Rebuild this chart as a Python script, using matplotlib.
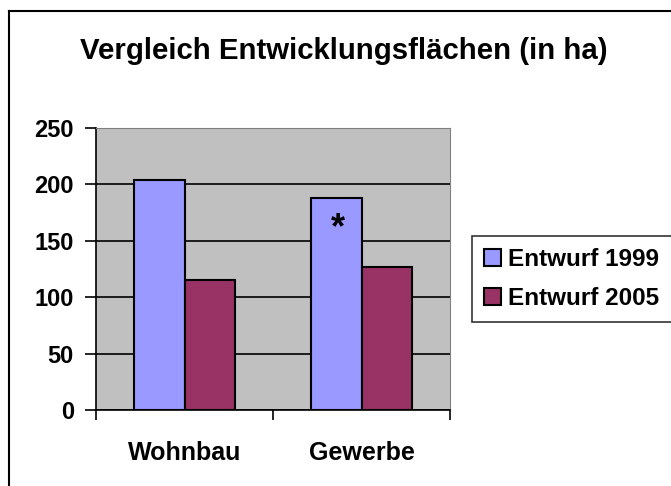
import numpy as np
import matplotlib.pyplot as plt
from matplotlib.lines import Line2D

plt.rcParams['font.family'] = ['Liberation Sans', 'DejaVu Sans']
plt.rcParams['font.weight'] = 'bold'

# Daten
kategorien = ['Wohnbau', 'Gewerbe']
serien = ['Entwurf 1999', 'Entwurf 2005']
werte_1999 = [204, 188]
werte_2005 = [115, 127]
y_ticks = [0, 50, 100, 150, 200, 250]

farben = ['#9999FF', '#993366']

W, H = 671, 486
fig = plt.figure(figsize=(W / 100, H / 100), dpi=100)

# Rahmen des Diagramms (links und oben)
fig.add_artist(Line2D([9 / W, 9 / W], [0, 1 - 11 / H], color='black', lw=1.5,
                      transform=fig.transFigure))
fig.add_artist(Line2D([9 / W, 1], [1 - 11 / H, 1 - 11 / H], color='black', lw=1.5,
                      transform=fig.transFigure))

ax = fig.add_axes([96 / W, 1 - 410 / H, 354 / W, 282 / H])
ax.set_facecolor('#C0C0C0')

x = np.arange(len(kategorien))
w = 1 / 3.5
b1 = ax.bar(x - w / 2, werte_1999, w, color=farben[0], edgecolor='black', lw=1.5,
            label=serien[0], zorder=3)
b2 = ax.bar(x + w / 2, werte_2005, w, color=farben[1], edgecolor='black', lw=1.5,
            label=serien[1], zorder=3)

# Sternchen im Gewerbe-Balken
ax.annotate('*', xy=(x[1] - w / 2, werte_1999[1]), xytext=(1, -35),
            textcoords='offset points', ha='center', va='bottom',
            fontsize=26, fontweight='bold', zorder=4)

ax.set_xlim(-0.5, len(kategorien) - 0.5)
ax.set_ylim(0, 250)
ax.set_yticks(y_ticks)
ax.yaxis.grid(True, color='black', lw=1.2, zorder=1)
ax.set_axisbelow(True)

ax.set_xticks(x)
ax.set_xticklabels(kategorien, fontsize=18, fontweight='bold')
ax.set_xticks([-0.5, 0.5, 1.5], minor=True)
ax.tick_params(axis='x', which='major', length=0, pad=22)
ax.tick_params(axis='x', which='minor', length=7, width=1.2, direction='out')
ax.tick_params(axis='y', length=8, width=1.2, direction='out', pad=8, labelsize=17)
for t in ax.get_yticklabels():
    t.set_fontweight('bold')

for s in ['top', 'right']:
    ax.spines[s].set_color('#808080')
for s in ['left', 'bottom']:
    ax.spines[s].set_color('black')
    ax.spines[s].set_linewidth(1.2)

fig.text(344 / W, 1 - 51 / H, 'Vergleich Entwicklungsflächen (in ha)',
         ha='center', va='center', fontsize=21.2, fontweight='bold')

leg = fig.legend(handles=[b1, b2], loc='upper left',
                 bbox_to_anchor=(472 / W, 1 - 236 / H), fontsize=17.5,
                 frameon=True, fancybox=False, edgecolor='black',
                 handlelength=0.7, handleheight=0.7, handletextpad=0.3,
                 borderpad=0.5, labelspacing=0.65, borderaxespad=0)
leg.get_frame().set_linewidth(1.2)
for t in leg.get_texts():
    t.set_fontweight('bold')

fig.savefig('out.png', dpi=100)
